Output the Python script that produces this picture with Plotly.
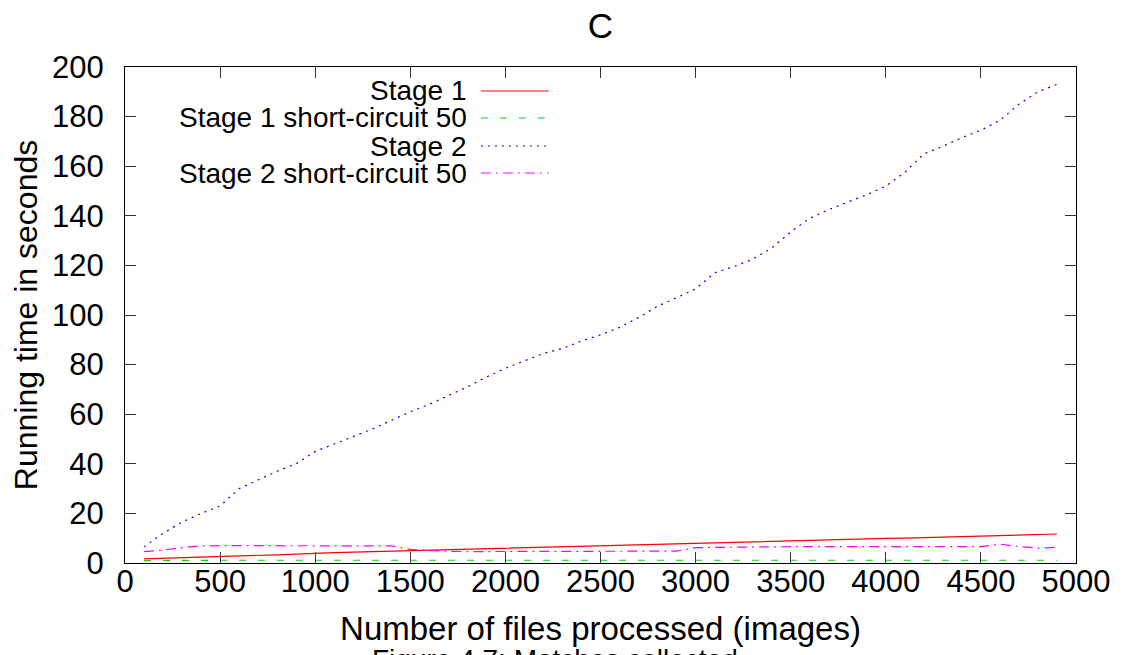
import plotly.graph_objects as go

# files processed (images)
files = list(range(100, 5000, 100))

stage1 = [1.7, 1.9, 2.1, 2.4, 2.6, 2.8, 3.0, 3.3, 3.6, 4.0,
          4.2, 4.4, 4.6, 4.8, 5.1, 5.3, 5.5, 5.7, 5.9, 6.1,
          6.3, 6.5, 6.6, 6.8, 6.9, 7.1, 7.3, 7.5, 7.7, 7.9,
          8.1, 8.3, 8.5, 8.7, 8.9, 9.1, 9.3, 9.5, 9.7, 9.9,
          10.0, 10.2, 10.3, 10.4, 10.6, 10.8, 11.0, 11.3, 11.7]

stage1_sc50 = [1.0, 1.1, 1.1, 1.1, 1.1, 1.1, 1.1, 1.1, 1.1, 1.1,
               1.1, 1.1, 1.1, 1.1, 1.1, 1.0, 0.9, 0.9, 0.9, 0.9,
               0.9, 0.9, 0.9, 0.9, 0.9, 0.9, 0.9, 0.9, 1.0, 1.1,
               1.1, 1.1, 1.1, 1.1, 1.1, 1.1, 1.1, 1.1, 1.1, 1.1,
               1.1, 1.1, 1.1, 1.1, 1.1, 1.1, 1.1, 1.1, 1.1]

stage2 = [6.5, 12, 16.5, 20, 23, 30, 33.5, 37, 40, 45,
          48, 51, 54, 57.5, 61, 64, 67.5, 71, 75, 78.5,
          81.5, 84.5, 86.5, 89.5, 92, 95, 99, 103.5, 107, 110.5,
          117, 119.5, 122.5, 127, 133.5, 139, 142.5, 145.5, 148.5, 152,
          157.5, 165, 168, 171.5, 174.5, 178.5, 185, 190, 193]

stage2_sc50 = [4.6, 5.2, 6.2, 6.9, 7.0, 7.0, 7.1, 7.0, 7.0, 7.0,
               7.0, 7.0, 7.0, 6.9, 5.5, 5.0, 4.7, 4.6, 4.6, 4.6,
               4.6, 4.6, 4.6, 4.6, 4.6, 4.6, 4.7, 4.7, 4.8, 6.2,
               6.3, 6.4, 6.7, 6.6, 6.6, 6.6, 6.6, 6.5, 6.4, 6.3,
               6.3, 6.3, 6.3, 6.4, 6.6, 7.6, 6.6, 6.0, 6.3]

names = ["Stage 1", "Stage 1 short-circuit 50", "Stage 2", "Stage 2 short-circuit 50"]
colors = ["#ff0000", "#00dd00", "#0000ff", "#ff00ff"]
dashes = ["solid", "7px,12px", "2px,5px", "10px,5px,2px,5px"]

FONT = "Liberation Sans, Arial, sans-serif"

fig = go.Figure()
for ys, nm, c, d in zip([stage1, stage1_sc50, stage2, stage2_sc50], names, colors, dashes):
    fig.add_trace(go.Scatter(x=files, y=ys, mode="lines", name=nm,
                             line=dict(color=c, width=1.2, dash=d),
                             showlegend=False))

# plot box in screen pixels (page body adds an 8px offset)
OFF = 8
L, R, T, B = 122, 1076, 67, 563
def px(p): return (p - L) / (R - L)
def py(p): return (B - p) / (B - T)

# gnuplot-like key: text right aligned, line sample on the right
rows = [91, 118, 146, 173]
for nm, c, d, yy in zip(names, colors, dashes, rows):
    fig.add_annotation(x=px(467), y=py(yy), xref="paper", yref="paper",
                       text=nm, showarrow=False, xanchor="right", yanchor="middle",
                       font=dict(size=28, color="black", family=FONT))
    fig.add_shape(type="line", xref="paper", yref="paper",
                  x0=px(479), x1=px(547), y0=py(yy), y1=py(yy),
                  line=dict(color=c, width=1.2, dash=d))

# figure caption, cut off by the bottom edge as in the source page
fig.add_annotation(x=px(368), y=py(659), xref="paper", yref="paper",
                   text="Figure 4.7: Matches collected", showarrow=False,
                   xanchor="left", yanchor="middle",
                   font=dict(size=28, color="black", family=FONT))

axis_common = dict(showline=True, linecolor="black", linewidth=1.3, mirror="allticks",
                   ticks="inside", ticklen=11, tickcolor="#333333", tickwidth=1.2,
                   showgrid=False, zeroline=False,
                   tickfont=dict(size=31, color="black", family=FONT))

fig.update_layout(
    width=1127, height=655,
    margin=dict(l=L - OFF, r=1127 + OFF - R, t=T - OFF, b=655 + OFF - B),
    paper_bgcolor="white", plot_bgcolor="white",
    title=dict(text="C", xref="paper", x=0.5, xanchor="center",
               y=1 - (26 - OFF) / 655, yanchor="middle",
               font=dict(size=35, color="black", family=FONT)),
    xaxis=dict(range=[0, 5000], tickmode="linear", tick0=0, dtick=500,
               title=dict(text="Number of files processed (images)", standoff=18,
                          font=dict(size=33, color="black", family=FONT)),
               ticklabelstandoff=-9, **axis_common),
    yaxis=dict(range=[0, 200], tickmode="linear", tick0=0, dtick=20,
               title=dict(text="Running time in seconds", standoff=10,
                          font=dict(size=32, color="black", family=FONT)),
               ticklabelstandoff=14, **axis_common),
)

fig.write_html("out.html")
